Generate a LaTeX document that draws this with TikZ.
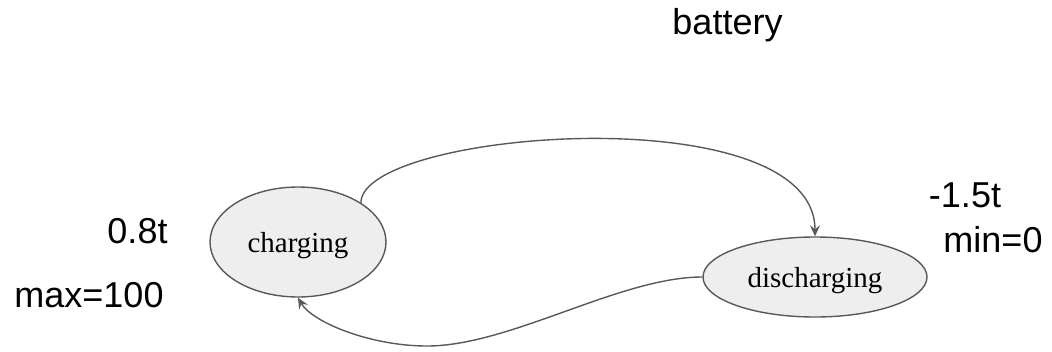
\documentclass[tikz,border=0pt]{standalone}
\usepackage{fontspec}
\setmainfont{Liberation Serif}
\newfontfamily\labelfont{Liberation Sans}
\usetikzlibrary{shapes.geometric,arrows.meta}
\definecolor{edgegray}{HTML}{595959}
\definecolor{fillgray}{HTML}{EEEEEE}
\tikzset{
  state/.style={ellipse, draw=edgegray, fill=fillgray, line width=1.4pt, inner sep=0pt,
    text height=20pt, text depth=0pt, font=\fontsize{29}{34}\selectfont},
  annot/.style={anchor=base, inner sep=0pt, font=\labelfont\fontsize{36}{43}\selectfont},
  trans/.style={draw=edgegray, line width=1.4pt, -{Stealth[length=11pt,width=10pt,inset=4pt]}}
}
\begin{document}
\begin{tikzpicture}[x=1pt,y=-1pt]
\useasboundingbox (0,0) rectangle (1052,351);
\node[state, minimum width=176pt, minimum height=110pt] (ch) at (298,242) {charging};
\node[state, minimum width=224pt, minimum height=80pt] (dis) at (815,277) {discharging};
\node[annot] (bat) at (727.5,34) {battery};
\node[annot] (rch) at (137.5,243) {0.8t};
\node[annot] (mx) at (89,307) {max=100};
\node[annot] (rdis) at (965,207) {-1.5t};
\node[annot] (mn) at (993,252) {min=0};
\draw[trans] (ch.32) .. controls (362,130) and (815,95) .. (dis.north);
\draw[trans] (dis.west) .. controls (620,277) and (510,346) .. (427,346)
  .. controls (370,346) and (312,322) .. (ch.south);
\end{tikzpicture}
\end{document}
